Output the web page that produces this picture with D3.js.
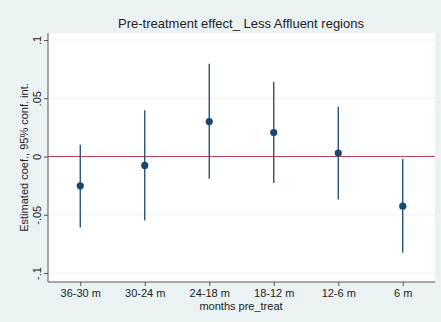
<!DOCTYPE html>
<html><head><meta charset="utf-8">
<script src="https://cdn.jsdelivr.net/npm/d3@7"></script>
<style>html,body{margin:0;padding:0;background:#eaf2f3;}svg{display:block;font-family:"Liberation Sans",Arial,sans-serif;}</style>
</head><body>
<svg id="c" width="441" height="322"></svg>
<script>
const categories = ["36-30 m","30-24 m","24-18 m","18-12 m","12-6 m","6 m"];
const coef  = [-0.0252, -0.0077, 0.0300, 0.0206, 0.0029, -0.0426];
const lower = [-0.0610, -0.0550, -0.0190, -0.0228, -0.0369, -0.0827];
const upper = [ 0.0100,  0.0398,  0.0796,  0.0639,  0.0427, -0.0022];
const yTicks = [-0.1, -0.05, 0, 0.05, 0.1];
const yTickLabels = ["-.1", "-.05", "0", ".05", ".1"];

const svg = d3.select("#c");
const L = 48, R = 435, T = 33, B = 282;
const x = d3.scaleLinear().domain([0.5, 6.5]).range([L, R]);
const y = d3.scaleLinear().domain([-0.1, 0.1]).range([273, 40]);

svg.append("rect").attr("width",441).attr("height",322).attr("fill","#eaf2f3");
svg.append("rect").attr("x",L).attr("y",T).attr("width",R-L).attr("height",B-T).attr("fill","#ffffff");

// grid
svg.append("g").selectAll("line").data(yTicks.filter(d=>d!==0)).join("line")
  .attr("x1",L).attr("x2",R).attr("y1",d=>y(d)).attr("y2",d=>y(d))
  .attr("stroke","#eaf2f3").attr("stroke-width",1);

// zero line
svg.append("line").attr("x1",L).attr("x2",R).attr("y1",y(0)).attr("y2",y(0))
  .attr("stroke","#c0405a").attr("stroke-width",1.2);

// y axis
const yAxis = d3.axisLeft(y).tickValues(yTicks).tickFormat((d,i)=>yTickLabels[i]).tickSize(4).tickSizeOuter(0);
const gy = svg.append("g").attr("transform",`translate(${L},0)`).call(yAxis);
gy.select(".domain").remove();
gy.selectAll(".tick line").attr("stroke","#555");
gy.selectAll(".tick text").attr("font-size",11).attr("fill","#222")
  .attr("text-anchor","middle").attr("x",0).attr("dy",0)
  .attr("transform","translate(-7,0) rotate(-90)");
svg.append("line").attr("x1",L).attr("x2",L).attr("y1",T).attr("y2",B).attr("stroke","#555").attr("stroke-width",1);

// x axis
const xAxis = d3.axisBottom(x).tickValues(d3.range(1,7)).tickFormat(d=>categories[d-1]).tickSize(4).tickSizeOuter(0);
const gx = svg.append("g").attr("transform",`translate(0,${B})`).call(xAxis);
gx.select(".domain").remove();
gx.selectAll(".tick line").attr("stroke","#555");
gx.selectAll(".tick text").attr("font-size",11).attr("fill","#222").attr("y",7);
svg.append("line").attr("x1",L).attr("x2",R).attr("y1",B).attr("y2",B).attr("stroke","#555").attr("stroke-width",1);

// CI spikes
svg.append("g").selectAll("line").data(categories).join("line")
  .attr("x1",(d,i)=>x(i+1)).attr("x2",(d,i)=>x(i+1))
  .attr("y1",(d,i)=>y(lower[i])).attr("y2",(d,i)=>y(upper[i]))
  .attr("stroke","#1a476f").attr("stroke-width",1.3);

// points
svg.append("g").selectAll("circle").data(categories).join("circle")
  .attr("cx",(d,i)=>x(i+1)).attr("cy",(d,i)=>y(coef[i])).attr("r",3.6)
  .attr("fill","#1a476f");

// titles
svg.append("text").attr("x",241).attr("y",28).attr("text-anchor","middle")
  .attr("font-size",13).attr("fill","#222").text("Pre-treatment effect_ Less Affluent regions");
svg.append("text").attr("x",241).attr("y",310).attr("text-anchor","middle")
  .attr("font-size",11).attr("fill","#222").text("months pre_treat");
svg.append("text").attr("transform",`translate(28,${(T+B)/2}) rotate(-90)`).attr("text-anchor","middle")
  .attr("font-size",11).attr("fill","#222").text("Estimated coef., 95% conf. int.");
</script>
</body></html>
